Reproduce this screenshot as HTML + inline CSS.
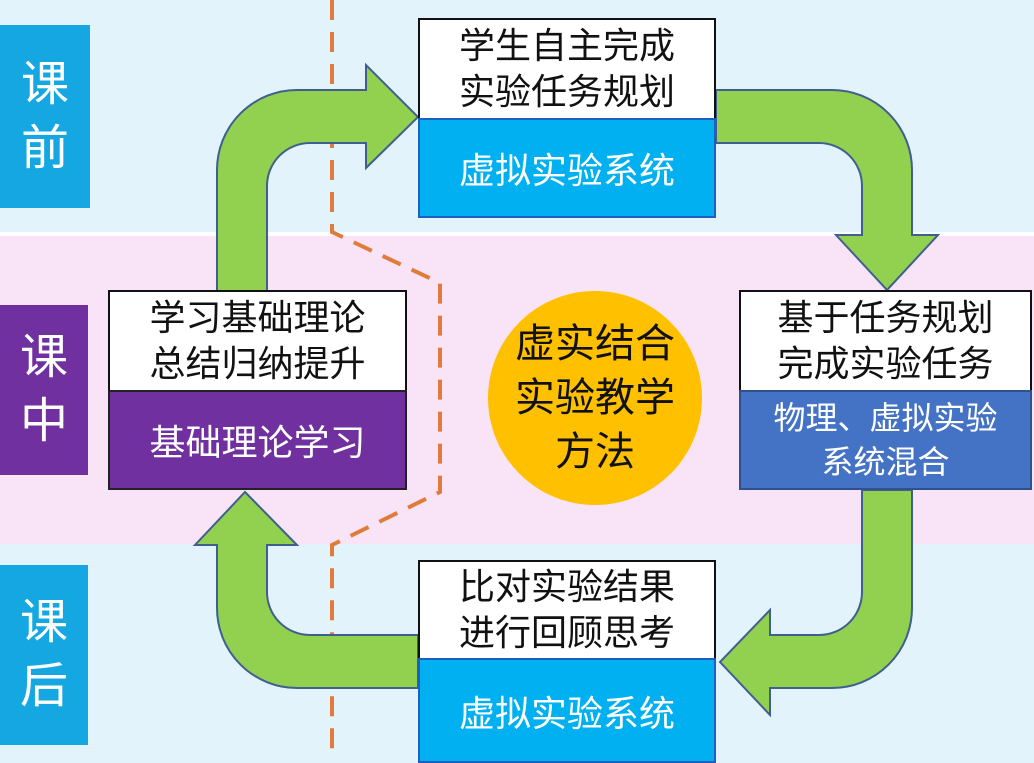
<!DOCTYPE html>
<html><head><meta charset="utf-8"><style>
body{margin:0;width:1034px;height:763px;overflow:hidden;position:relative;background:#e3f3fb;font-family:"Liberation Sans","Noto Sans CJK SC",sans-serif}
.a{position:absolute}
.t{position:absolute;box-sizing:border-box;display:flex;align-items:center;justify-content:center;text-align:center}
.w{background:#fff;border:2px solid #111;color:#111;font-size:36px;line-height:46px}
.side{color:#fff;font-size:48px;line-height:64px;background:#14a7e2}
</style></head><body>
<div class="a" style="left:0;top:236px;width:1034px;height:308px;background:#f8e4f6"></div>
<div class="a" style="left:0;top:232px;width:1034px;height:4px;background:#fff"></div>
<div class="t side" style="left:0;top:25px;width:90px;height:183px">课<br>前</div>
<div class="t side" style="left:0;top:305px;width:88px;height:170px;background:#7030a0">课<br>中</div>
<div class="t side" style="left:0;top:565px;width:88px;height:180px">课<br>后</div>
<svg class="a" style="left:0;top:0" width="1034" height="763">
<path d="M332 0 V232 L440 283 V492 L332 545 V750" fill="none" stroke="#e07b39" stroke-width="4" stroke-dasharray="20 12"/>
<circle cx="595" cy="398" r="107" fill="#ffc000"/>
<g fill="#92d050" stroke="#3f5f8f" stroke-width="2">
<path d="M217 292 V170 A80 80 0 0 1 297 90 H366 V65 L418 117 L366 168 V143 H310 A43 43 0 0 0 267 186 V292 Z"/>
<path d="M716 90 H832 A80 80 0 0 1 912 170 V235 H938 L887 290 L836 235 H862 V186 A43 43 0 0 0 819 143 H716 Z"/>
<path d="M862 490 V592 A43 43 0 0 1 819 635 H770 V610 L720 662 L770 715 V688 H832 A80 80 0 0 0 912 608 V490 Z"/>
<path d="M418 635 H310 A43 43 0 0 1 267 592 V545 H297 L245 492 L195 545 H217 V608 A80 80 0 0 0 297 688 H418 Z"/>
</g>
</svg>
<div class="t w" style="left:418px;top:18px;width:298px;height:102px">学生自主完成<br>实验任务规划</div>
<div class="t" style="left:418px;top:118px;width:298px;height:100px;background:#00b0f0;border:2px solid #1f5fbf;color:#fff;font-size:36px">虚拟实验系统</div>
<div class="t w" style="left:108px;top:290px;width:299px;height:102px">学习基础理论<br>总结归纳提升</div>
<div class="t" style="left:108px;top:390px;width:299px;height:100px;background:#7030a0;border:2px solid #222;color:#fff;font-size:36px">基础理论学习</div>
<div class="t w" style="left:739px;top:290px;width:293px;height:102px">基于任务规划<br>完成实验任务</div>
<div class="t" style="left:739px;top:390px;width:293px;height:100px;background:#4472c4;border:2px solid #2f528f;color:#fff;font-size:32px;line-height:44px">物理、虚拟实验<br>系统混合</div>
<div class="t w" style="left:418px;top:560px;width:298px;height:100px">比对实验结果<br>进行回顾思考</div>
<div class="t" style="left:418px;top:658px;width:298px;height:105px;background:#00b0f0;border:2px solid #1f5fbf;color:#fff;font-size:36px">虚拟实验系统</div>
<div class="t" style="left:488px;top:291px;width:214px;height:214px;color:#111;font-size:40px;line-height:54px">虚实结合<br>实验教学<br>方法</div>
</body></html>
